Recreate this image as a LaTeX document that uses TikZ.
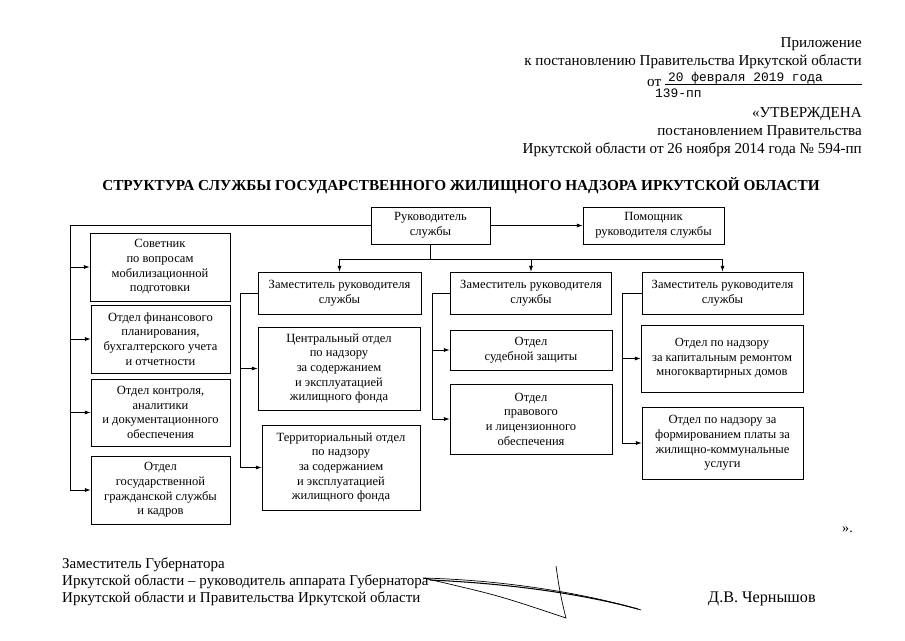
\documentclass[tikz,border=0pt]{standalone}
\usepackage{fontspec}
\setmainfont{Liberation Serif}
\newfontfamily\datefont{Liberation Mono}
\usetikzlibrary{arrows.meta,calc}

\begin{document}
\begin{tikzpicture}[x=0.03cm,y=-0.03cm,
  unit/.style 2 args={draw,line width=0.6pt,align=center,inner sep=1pt,
    minimum width=#1*0.03cm,minimum height=#2*0.03cm,
    font=\fontsize{10.7}{12.5}\selectfont},
  link/.style={line width=0.6pt},
  feed/.style={line width=0.6pt,-{Latex[length=5pt,width=3.5pt]}},
  head/.style={anchor=base east,inner sep=0pt,font=\fontsize{12.9}{14}\selectfont},
  foot/.style={anchor=base west,inner sep=0pt,font=\fontsize{12.8}{14}\selectfont}]
\useasboundingbox (0,0) rectangle (905,640);

% header
\node[head] (annex) at (862,47) {Приложение};
\node[head] (decree) at (862,65) {к постановлению Правительства Иркутской области};
\node[anchor=base west,inner sep=0pt,font=\fontsize{12.9}{14}\selectfont] (from) at (647,86) {от};
\node[anchor=base west,inner sep=0pt,font=\datefont\fontsize{11}{13}\selectfont] (date) at (668,81) {20 февраля 2019 года};
\node[anchor=base west,inner sep=0pt,font=\datefont\fontsize{11}{13}\selectfont] (number) at (655,97) {139-пп};
\coordinate (lineA) at (665,84.5);
\coordinate (lineB) at (862,84.5);
\draw[line width=0.5pt] (lineA) -- (lineB);
\node[head] (approved) at (862,117) {«УТВЕРЖДЕНА};
\node[head] (approvedby) at (862,135) {постановлением Правительства};
\node[head] (approveddate) at (862,153) {Иркутской области от 26 ноября 2014 года № 594-пп};

% title
\node[anchor=base,inner sep=0pt,font=\bfseries\fontsize{13}{14}\selectfont] (title) at (461,190)
  {СТРУКТУРА СЛУЖБЫ ГОСУДАРСТВЕННОГО ЖИЛИЩНОГО НАДЗОРА ИРКУТСКОЙ ОБЛАСТИ};

% boxes
\node[unit={119}{37}] (chief) at (430.5,225.5) {Руководитель\\службы};
\node[unit={141}{37}] (aide) at (653.5,225.5) {Помощник\\руководителя службы};

\node[unit={140}{68}] (adviser) at (160,267) {Советник\\по вопросам\\мобилизационной\\подготовки};
\node[unit={139}{68}] (finance) at (160.5,339) {Отдел финансового\\планирования,\\бухгалтерского учета\\и отчетности};
\node[unit={139}{67}] (control) at (160.5,412.5) {Отдел контроля,\\аналитики\\и документационного\\обеспечения};
\node[unit={139}{68}] (staff) at (160.5,490) {Отдел\\государственной\\гражданской службы\\и кадров};

\node[unit={163}{42}] (deputyA) at (339.5,293) {Заместитель руководителя\\службы};
\node[unit={161}{42}] (deputyB) at (531,293) {Заместитель руководителя\\службы};
\node[unit={161}{42}] (deputyC) at (722.5,293) {Заместитель руководителя\\службы};

\node[unit={162}{83}] (central) at (339,368.5) {Центральный отдел\\по надзору\\за содержанием\\и эксплуатацией\\жилищного фонда};
\node[unit={158}{85}] (territorial) at (341,467.5) {Территориальный отдел\\по надзору\\за содержанием\\и эксплуатацией\\жилищного фонда};

\node[unit={162}{40}] (court) at (531,350) {Отдел\\судебной защиты};
\node[unit={162}{70}] (legal) at (531,419) {Отдел\\правового\\и лицензионного\\обеспечения};

\node[unit={162}{67}] (repair) at (722,358.5) {Отдел по надзору\\за капитальным ремонтом\\многоквартирных домов};
\node[unit={161}{72}] (payment) at (722.5,443) {Отдел по надзору за\\формированием платы за\\жилищно-коммунальные\\услуги};

% connectors
\coordinate (spineL) at (70,0);
\coordinate (spineA) at (240,0);
\coordinate (spineB) at (432,0);
\coordinate (spineC) at (622,0);
\coordinate (bus) at (0,259);

\draw[feed] (chief.east) -- (aide.west);

\draw[link] (chief.west) -| (spineL |- staff.west);
\foreach \n in {adviser,finance,control,staff}
  \draw[feed] (spineL |- \n.west) -- (\n.west);

\draw[link] (chief.south) -- (chief.south |- bus);
\draw[link] (deputyA.north |- bus) -- (deputyC.north |- bus);
\foreach \n in {deputyA,deputyB,deputyC}
  \draw[feed] (\n.north |- bus) -- (\n.north);

\draw[link] (deputyA.west) -| (spineA |- territorial.west);
\foreach \n in {central,territorial}
  \draw[feed] (spineA |- \n.west) -- (\n.west);

\draw[link] (deputyB.west) -| (spineB |- legal.west);
\foreach \n in {court,legal}
  \draw[feed] (spineB |- \n.west) -- (\n.west);

\draw[link] (deputyC.west) -| (spineC |- payment.west);
\foreach \n in {repair,payment}
  \draw[feed] (spineC |- \n.west) -- (\n.west);

\node[anchor=base west,inner sep=0pt,font=\fontsize{12}{14}\selectfont] (close) at (842,532) {».};

% footer
\node[foot] (signA) at (62,568) {Заместитель Губернатора};
\node[foot] (signB) at (62,585) {Иркутской области – руководитель аппарата Губернатора};
\node[foot] (signC) at (62,602) {Иркутской области и Правительства Иркутской области};
\node[foot,font=\fontsize{13.8}{14}\selectfont] (signer) at (708,602) {Д.В. Чернышов};

% signature
\draw[line width=0.6pt] (641,610) .. controls (580,592) and (500,580) .. (423,578)
  -- (445,583) .. controls (500,596) .. (566,618) .. controls (560,595) and (558,580) .. (556,566);
\draw[line width=0.9pt] (430,580) .. controls (520,584) and (590,596) .. (638,609);

\end{tikzpicture}
\end{document}
